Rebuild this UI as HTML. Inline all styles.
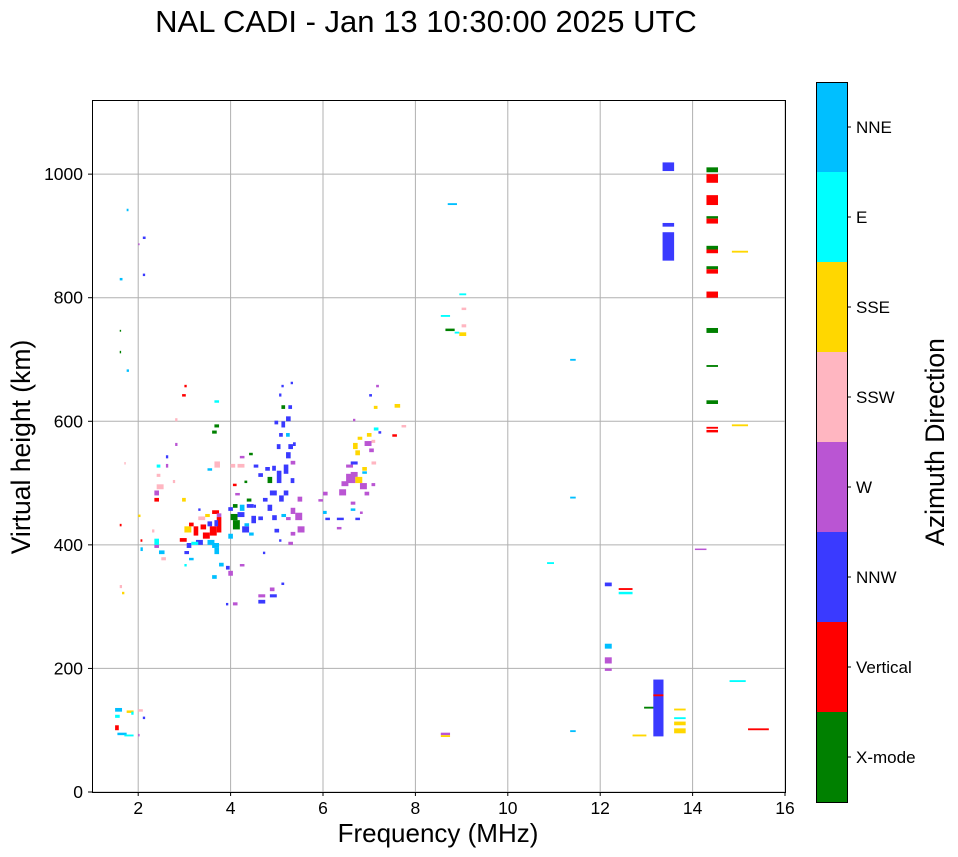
<!DOCTYPE html>
<html><head><meta charset="utf-8">
<style>
body{margin:0;background:#fff;}
svg{display:block;font-family:"Liberation Sans",sans-serif;}
</style></head>
<body>
<svg id="chart" width="958" height="857">
<text x="426" y="32" font-size="31" text-anchor="middle">NAL CADI - Jan 13 10:30:00 2025 UTC</text>
<g id="grid"></g>
<g id="marks"></g>
<rect x="92.5" y="100.5" width="693" height="692" fill="none" stroke="#000" stroke-width="1"/>
<g id="axes"></g>
<text x="438" y="842" font-size="26" text-anchor="middle">Frequency (MHz)</text>
<text transform="translate(30,447) rotate(-90)" font-size="26.5" text-anchor="middle">Virtual height (km)</text>
<g id="cbar"></g>
<text transform="translate(944,442) rotate(-90)" font-size="26.5" text-anchor="middle">Azimuth Direction</text>
</svg>
<script>
const directions=["X-mode","Vertical","NNW","W","SSW","SSE","E","NNE"];
const dirColors=["#008000","#ff0000","#3a3aff","#ba55d3","#ffb6c1","#ffd700","#00ffff","#00bfff"];
const xTicks=[2,4,6,8,10,12,14,16];
const yTicks=[0,200,400,600,800,1000];
// echoes: [freq MHz, height km, direction index, width MHz, height span km]
const echoes=[
[1.5,130,7,0.15,6],[1.5,120,6,0.1,5],[1.5,100,1,0.08,8],[1.55,92,7,0.2,4],[1.7,90,6,0.2,3],[1.75,128,5,0.15,4],[1.85,125,6,0.05,5],[2.0,130,4,0.1,4],[2.1,118,2,0.05,4],[2.0,90,3,0.03,4],[1.6,330,4,0.05,5],[1.65,320,5,0.05,4],[1.6,430,1,0.04,4],[1.7,530,4,0.03,4],[1.6,710,0,0.03,4],[1.6,745,0,0.03,3],[1.75,680,7,0.05,4],[1.75,940,7,0.04,4],[2.1,895,2,0.06,4],[2.1,835,2,0.05,4],[2.0,885,3,0.03,3],[1.6,828,7,0.06,4],
[2.05,390,7,0.05,6],[2.0,445,5,0.05,4],[2.05,405,1,0.04,4],
[2.35,480,3,0.1,8],[2.35,470,1,0.1,6],[2.4,490,4,0.15,8],[2.4,510,4,0.08,5],[2.4,525,6,0.08,5],[2.35,395,3,0.1,6],[2.45,385,7,0.12,6],[2.5,375,4,0.1,5],[2.35,400,6,0.1,10],[2.3,420,4,0.05,5],[2.6,540,2,0.05,5],[2.6,525,3,0.05,6],[2.8,600,4,0.05,5],[2.8,560,3,0.05,5],[2.75,500,4,0.05,5],[2.95,640,1,0.08,4],[3.0,655,1,0.05,4],[2.95,470,5,0.08,6],
[2.9,405,1,0.15,6],[3.0,420,5,0.15,10],[3.05,395,2,0.1,8],[3.1,430,1,0.1,6],[3.2,415,1,0.1,15],[3.25,400,2,0.15,8],[3.0,385,2,0.1,5],[3.1,375,7,0.1,4],[3.15,400,6,0.15,5],[3.3,440,4,0.15,6],[3.35,425,1,0.12,8],[3.4,410,1,0.15,10],[3.45,445,5,0.1,5],[3.5,400,7,0.15,8],[3.5,430,2,0.1,8],[3.55,415,1,0.15,15],[3.6,395,7,0.15,8],[3.65,385,7,0.1,10],[3.6,450,1,0.15,6],[3.7,420,1,0.1,25],[3.7,445,3,0.1,6],[3.65,430,2,0.08,10],[3.3,455,2,0.05,4],[3.0,365,6,0.05,4],
[3.65,525,4,0.12,10],[3.5,520,7,0.1,4],[3.6,580,0,0.1,5],[3.65,590,0,0.1,5],[3.65,630,6,0.1,4],[3.6,345,7,0.1,6],[3.75,365,7,0.1,6],[3.9,360,2,0.08,6],[3.95,350,3,0.1,8],[3.9,302,2,0.05,4],[4.05,302,3,0.1,5],
[3.95,410,7,0.1,8],[4.0,440,0,0.15,10],[4.05,425,0,0.15,15],[4.05,460,0,0.1,6],[3.95,455,2,0.1,6],[4.15,445,2,0.15,8],[4.2,455,7,0.1,10],[4.25,420,2,0.15,10],[4.3,430,7,0.1,5],[4.35,460,2,0.15,6],[4.35,470,0,0.1,5],[4.45,435,2,0.1,12],[4.6,440,2,0.1,6],[4.4,415,7,0.1,5],[4.1,480,3,0.1,4],[4.15,525,4,0.15,6],[4.0,525,4,0.1,6],[4.05,495,1,0.08,4],[4.2,540,3,0.1,4],[4.3,500,0,0.06,4],[4.4,545,0,0.08,4],
[4.2,365,3,0.1,4],[4.6,315,3,0.15,5],[4.6,305,2,0.15,6],[4.85,325,3,0.1,6],[4.85,315,2,0.15,5],[5.1,335,2,0.06,4],[4.7,385,2,0.05,4],[4.5,460,2,0.05,5],
[4.7,470,2,0.1,6],[4.8,455,2,0.1,10],[4.8,500,0,0.1,10],[4.85,480,2,0.15,8],[4.9,440,2,0.1,8],[4.95,420,2,0.1,6],[4.75,520,2,0.1,6],[4.9,520,2,0.08,8],[5.0,500,2,0.1,20],[5.05,470,2,0.1,10],[5.1,445,7,0.1,5],[5.15,480,2,0.1,8],[5.15,515,2,0.1,15],[5.2,540,2,0.1,10],[5.25,555,2,0.1,8],[5.3,530,3,0.1,6],[5.3,500,2,0.08,8],[5.0,555,2,0.08,8],[5.05,575,2,0.08,6],[5.1,590,2,0.08,10],[5.2,600,2,0.1,8],[5.25,620,2,0.08,6],[5.1,620,0,0.08,6],[5.05,640,2,0.05,5],[5.1,655,2,0.05,4],[5.3,660,2,0.05,4],[4.95,595,2,0.08,6],[5.2,575,7,0.08,6],[5.35,560,2,0.06,6],
[5.3,450,3,0.1,10],[5.4,440,3,0.15,12],[5.45,420,3,0.15,10],[5.3,415,3,0.1,6],[5.45,470,3,0.1,8],[5.2,440,3,0.1,5],[5.25,400,3,0.1,5],[5.05,405,2,0.05,4],[4.5,525,2,0.1,5],[4.6,510,2,0.1,6],
[5.9,470,3,0.1,4],[6.0,480,3,0.1,6],[6.0,450,7,0.08,5],[6.05,440,2,0.1,4],[6.3,440,2,0.15,4],[6.3,425,3,0.1,4],[6.35,480,3,0.15,10],[6.4,495,3,0.15,8],[6.6,465,3,0.1,5],[6.6,455,7,0.1,4],[6.7,440,2,0.1,4],[6.5,500,3,0.2,15],[6.5,525,3,0.15,5],[6.6,530,2,0.15,5],[6.7,545,5,0.1,8],[6.65,555,5,0.1,10],[6.75,570,5,0.1,5],[6.6,510,3,0.15,8],[6.7,500,5,0.15,10],[6.8,490,3,0.15,10],[6.85,520,5,0.1,6],[6.9,480,3,0.1,6],[6.9,560,3,0.15,8],[6.95,575,5,0.1,6],[7.0,550,3,0.1,6],[7.05,530,4,0.1,5],[7.1,585,6,0.1,5],[7.1,620,5,0.08,5],[7.0,640,2,0.06,4],[7.15,655,3,0.06,4],[7.2,580,2,0.06,4],[6.85,515,7,0.1,4],[7.05,495,3,0.08,5],[6.65,600,3,0.05,4],[7.55,622,5,0.12,6],[7.5,575,1,0.1,4],[7.7,590,4,0.1,4],[7.05,565,4,0.08,5],[6.8,450,3,0.06,4],
[8.55,769,6,0.2,3],[8.65,746,0,0.2,4],[8.7,950,7,0.2,3],[8.95,738,5,0.15,6],[8.95,804,6,0.15,3],[9.0,780,4,0.1,4],[9.0,752,4,0.1,5],[8.85,742,6,0.1,3],[8.55,92,3,0.2,4],[8.55,89,5,0.2,3],
[10.85,369,6,0.15,3],[11.35,97,7,0.12,3],[11.35,475,7,0.12,3],[11.35,698,7,0.12,3],
[12.1,333,2,0.15,6],[12.1,232,7,0.15,8],[12.1,208,3,0.15,10],[12.1,196,3,0.15,4],[12.4,320,6,0.3,4],[12.4,327,1,0.3,3],[12.7,90,5,0.3,3],[12.95,135,0,0.25,3],
[13.15,90,2,0.22,92],[13.15,155,1,0.22,3],[13.6,95,5,0.25,8],[13.6,108,5,0.25,6],[13.6,118,6,0.25,3],[13.6,132,5,0.25,3],
[13.35,1005,2,0.25,14],[13.35,915,2,0.25,6],[13.35,860,2,0.25,46],
[14.3,1003,0,0.25,8],[14.3,986,1,0.25,14],[14.3,950,1,0.25,16],[14.3,928,0,0.25,4],[14.3,920,1,0.25,8],[14.3,878,0,0.25,6],[14.3,872,1,0.25,6],[14.3,846,0,0.25,5],[14.3,839,1,0.25,7],[14.3,800,1,0.25,10],[14.3,743,0,0.25,8],[14.3,688,0,0.25,3],[14.3,628,0,0.25,6],[14.3,588,1,0.25,3],[14.3,582,1,0.25,4],
[14.85,873,5,0.35,3],[14.85,592,5,0.35,3],[14.8,178,6,0.35,3],[15.2,100,1,0.45,3],[14.05,392,3,0.25,2]
];
const NS="http://www.w3.org/2000/svg";
const X0=92,X1=785,Y0=792,Y1=100;
const xs=f=>X0+(f-1)/(16-1)*(X1-X0);
const ys=h=>Y0-h/(1120)*(Y0-Y1);
function mk(tag,attrs,parent){const e=document.createElementNS(NS,tag);for(const k in attrs)e.setAttribute(k,attrs[k]);parent.appendChild(e);return e;}
const grid=document.getElementById('grid'),axes=document.getElementById('axes'),marks=document.getElementById('marks'),cbar=document.getElementById('cbar');
xTicks.forEach(t=>{const x=xs(t);
 const l=mk('line',{x1:x,x2:x,y1:Y1,y2:Y0,stroke:'#b0b0b0','stroke-width':1},grid);
 
 
 mk('line',{x1:x,x2:x,y1:Y0,y2:Y0+4,stroke:'#000'},axes);
 const tx=mk('text',{x:x,y:Y0+22,'font-size':17.5,'text-anchor':'middle'},axes);tx.textContent=t;
 
 
});
yTicks.forEach(t=>{const y=ys(t);
 const l=mk('line',{x1:X0,x2:X1,y1:y,y2:y,stroke:'#b0b0b0','stroke-width':1},grid);
 
 
 mk('line',{x1:X0-4,x2:X0,y1:y,y2:y,stroke:'#000'},axes);
 const tx=mk('text',{x:X0-9,y:y+6,'font-size':17.5,'text-anchor':'end'},axes);tx.textContent=t;
 
 
});
echoes.forEach(e=>{const [f,h,d,w,s]=e;
 const x=xs(f),x2=xs(f+w),y=ys(h+s),y2=ys(h);
 const r=mk('rect',{x:x,y:y,width:Math.max(1,x2-x),height:Math.max(1.5,y2-y),fill:dirColors[d]},marks);
 
 
});
const CX=816,CW=31,CT=82,CB=802,bh=(CB-CT)/directions.length;
directions.forEach((d,i)=>{const y=CB-(i+1)*bh;
 const r=mk('rect',{x:CX,y:y,width:CW,height:bh,fill:dirColors[i]},cbar);
 
 
 mk('line',{x1:CX+CW,x2:CX+CW+4,y1:y+bh/2,y2:y+bh/2,stroke:'#000'},cbar);
 const tx=mk('text',{x:CX+CW+9,y:y+bh/2+6,'font-size':17},cbar);tx.textContent=d;
 
 
});
mk('rect',{x:CX+0.5,y:CT+0.5,width:CW,height:CB-CT,fill:'none',stroke:'#000'},cbar);
</script>
</body></html>
